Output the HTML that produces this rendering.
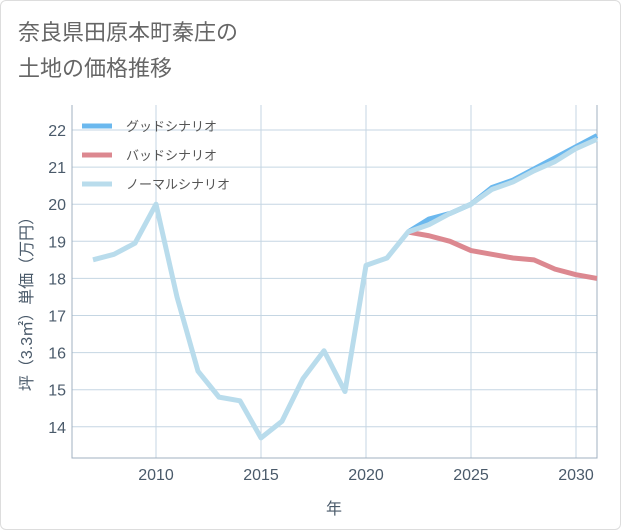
<!DOCTYPE html>
<html><head><meta charset="utf-8"><style>
body{margin:0;background:#fff;}
#card{position:absolute;left:0;top:0;width:619px;height:528px;border:1px solid #ddd;border-radius:6px;background:#fff;}
svg{position:absolute;left:0;top:0;}
text{font-family:"Liberation Sans","Noto Sans CJK JP",sans-serif;}
</style></head><body>
<div id="card"></div>
<svg id="chart" width="621" height="530">
<text x="18" y="40" font-size="22" fill="#666">奈良県田原本町秦庄の</text>
<text x="18" y="76" font-size="22" fill="#666">土地の価格推移</text>
</svg>
<script>
const years=[2007,2008,2009,2010,2011,2012,2013,2014,2015,2016,2017,2018,2019,2020,2021,2022,2023,2024,2025,2026,2027,2028,2029,2030,2031];
const normal=[18.5,18.65,18.95,20.0,17.5,15.5,14.8,14.7,13.7,14.15,15.3,16.05,14.95,18.35,18.55,19.25,19.45,19.75,20.0,20.4,20.6,20.9,21.15,21.5,21.75];
const fyears=[2022,2023,2024,2025,2026,2027,2028,2029,2030,2031];
const good=[19.25,19.6,19.75,20.0,20.45,20.65,20.95,21.25,21.55,21.85];
const bad=[19.25,19.15,19.0,18.75,18.65,18.55,18.5,18.25,18.1,18.0];
const xTicks=[2010,2015,2020,2025,2030];
const yTicks=[14,15,16,17,18,19,20,21,22];
const X=v=>156+(v-2010)*21, Y=v=>130+(22-v)*37.1;
const L=72,R=597,T=105,B=458;
const svg=document.getElementById('chart'),NS='http://www.w3.org/2000/svg';
function el(t,a,p){const e=document.createElementNS(NS,t);for(const k in a)e.setAttribute(k,a[k]);(p||svg).appendChild(e);return e;}
yTicks.forEach(v=>{
 const g=el('line',{x1:L,x2:R,y1:Y(v),y2:Y(v),stroke:'#c5d6e3','stroke-width':1});
 
 
 const t=el('text',{x:L-6,y:Y(v)+6,'text-anchor':'end','font-size':16,fill:'#4a5a6a'});t.textContent=v;
 
 
});
xTicks.forEach(v=>{
 const g=el('line',{x1:X(v),x2:X(v),y1:T,y2:B,stroke:'#c5d6e3','stroke-width':1});
 
 
 const t=el('text',{x:X(v),y:B+22,'text-anchor':'middle','font-size':16,fill:'#4a5a6a'});t.textContent=v;
 
 
});
const ax=el('path',{d:`M${L} ${T}V${B}H${R}V${T}`,fill:'none',stroke:'#a0b0c0','stroke-width':1});


function line(xs,ys,c,n){const p=el('polyline',{points:xs.map((x,i)=>X(x)+','+Y(ys[i])).join(' '),fill:'none',stroke:c,'stroke-width':5,'stroke-linejoin':'round'});
 
 }
line(fyears,good,'#6bb8ee','good-scenario-line');
line(fyears,bad,'#dc8890','bad-scenario-line');
line(years,normal,'#b9dcec','normal-scenario-line');
const leg=[['グッドシナリオ','#6bb8ee'],['バッドシナリオ','#dc8890'],['ノーマルシナリオ','#b9dcec']];
leg.forEach((d,i)=>{const y=126+i*29;
 const s=el('line',{x1:82,x2:112,y1:y,y2:y,stroke:d[1],'stroke-width':5});
 
 
 const t=el('text',{x:126,y:y+5,'font-size':13,fill:'#555'});t.textContent=d[0];
 
 
});
const xt=el('text',{x:334,y:514,'text-anchor':'middle','font-size':16,fill:'#4a5a6a'});xt.textContent='年';


const yt=el('text',{x:0,y:0,'text-anchor':'middle','font-size':16,fill:'#4a5a6a',transform:'translate(32,300) rotate(-90)'});yt.textContent='坪（3.3㎡）単価（万円）';


</script>
</body></html>
